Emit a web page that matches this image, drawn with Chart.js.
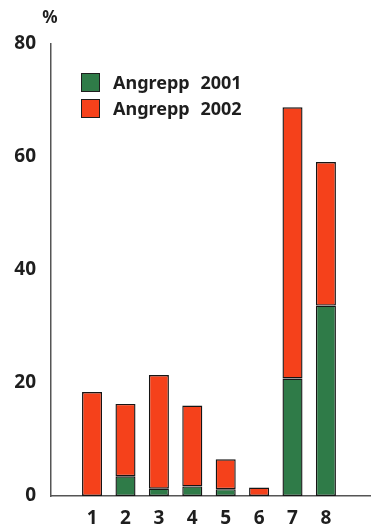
<!DOCTYPE html>
<html>
<head>
<meta charset="utf-8">
<script src="https://cdn.jsdelivr.net/npm/chart.js@4/dist/chart.umd.min.js"></script>
<style>
  html, body { margin: 0; padding: 0; background: #fff; }
  #wrap { width: 376px; height: 524px; position: relative; }
</style>
</head>
<body>
<div id="wrap"><canvas id="chart"></canvas></div>
<script>
// data
const categories = ['1', '2', '3', '4', '5', '6', '7', '8'];
const angrepp2001 = [0, 3.5, 1.3, 1.7, 1.2, 0, 20.8, 33.7];
const angrepp2002 = [18.4, 12.8, 20.1, 14.3, 5.3, 1.5, 48.0, 25.4];
const seriesLabels = ['Angrepp 2001', 'Angrepp 2002'];
const yTicks = [0, 20, 40, 60, 80];

const GREEN = '#2f7b48';
const RED = '#f5411b';
const INK = '#1e1e1e';
const FONT = '"Noto Sans", "DejaVu Sans", sans-serif';

function points(values) {
  return values.map((v, i) => ({ x: i + 1, y: v }));
}

// legend + "%" drawn inside the plot like the printed figure
const extras = {
  id: 'extras',
  afterDraw(chart) {
    const ctx = chart.ctx;
    ctx.save();
    ctx.fillStyle = INK;
    ctx.font = 'bold 17px ' + FONT;
    ctx.textAlign = 'center';
    ctx.textBaseline = 'middle';
    ctx.fillText('%', 50, 18);

    const boxX = 81, boxY = 73, box = 19, gap = 26;
    chart.data.datasets.forEach((ds, i) => {
      const top = boxY + i * gap;
      ctx.fillStyle = ds.backgroundColor;
      ctx.fillRect(boxX, top, box, box);
      ctx.strokeStyle = INK;
      ctx.lineWidth = 1;
      ctx.strokeRect(boxX + 0.5, top + 0.5, box - 1, box - 1);
      ctx.fillStyle = INK;
      ctx.textAlign = 'left';
      ctx.font = 'bold 18px ' + FONT;
      if ('wordSpacing' in ctx) ctx.wordSpacing = '6px';
      ctx.fillText(ds.label, 113, top + box / 2 + 1);
    });
    ctx.restore();
  }
};

new Chart(document.getElementById('chart'), {
  type: 'bar',
  data: {
    datasets: [
      { label: seriesLabels[0], data: points(angrepp2001), backgroundColor: GREEN },
      { label: seriesLabels[1], data: points(angrepp2002), backgroundColor: RED }
    ]
  },
  options: {
    responsive: true,
    maintainAspectRatio: false,
    animation: false,
    layout: { padding: { top: 44, right: 6, left: 0, bottom: 0 } },
    datasets: {
      bar: {
        barPercentage: 0.6,
        categoryPercentage: 1,
        borderColor: '#151515',
        borderWidth: 1.4,
        borderSkipped: false
      }
    },
    plugins: {
      legend: { display: false },
      tooltip: { enabled: false }
    },
    scales: {
      x: {
        type: 'linear',
        stacked: true,
        offset: false,
        min: -0.23,
        max: 9.32,
        afterBuildTicks: s => { s.ticks = categories.map((c, i) => ({ value: i + 1 })); },
        afterFit: s => { s.height = 28; },
        grid: { display: false, offset: false },
        border: { display: true, color: '#555', width: 1.5 },
        ticks: {
          autoSkip: false,
          maxRotation: 0,
          padding: 3,
          color: INK,
          font: { family: FONT, size: 19, weight: 'bold' },
          callback: v => categories[v - 1]
        }
      },
      y: {
        stacked: true,
        min: 0,
        max: 80,
        afterBuildTicks: s => { s.ticks = yTicks.map(v => ({ value: v })); },
        afterFit: s => { s.width = 51; },
        grid: { display: false },
        border: { display: true, color: '#555', width: 1.5 },
        ticks: {
          padding: 7,
          color: INK,
          font: { family: FONT, size: 19, weight: 'bold' }
        }
      }
    }
  },
  plugins: [extras]
});
</script>
</body>
</html>
